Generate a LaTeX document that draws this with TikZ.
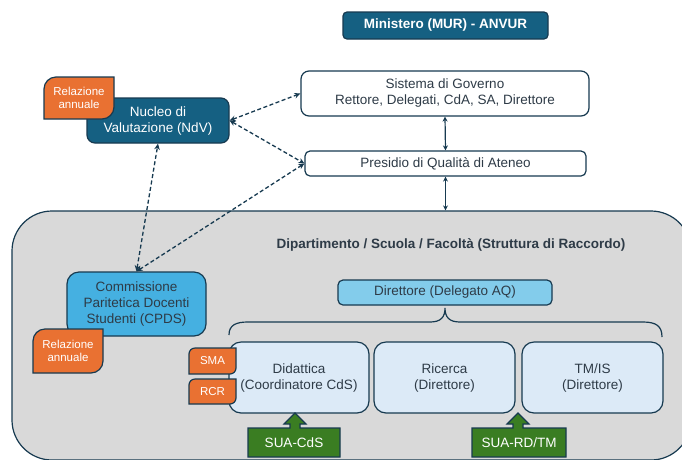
\documentclass[tikz,border=0pt]{standalone}
\usepackage{fontspec}
\setmainfont{Liberation Sans}
\usetikzlibrary{arrows.meta}
\definecolor{navy}{HTML}{173A50}
\definecolor{dkblue}{HTML}{156082}
\definecolor{orng}{HTML}{E97132}
\definecolor{cpdsc}{HTML}{45B0E1}
\definecolor{dirc}{HTML}{83CCEB}
\definecolor{lightc}{HTML}{DCEAF7}
\definecolor{grayc}{HTML}{D9D9D9}
\definecolor{grn}{HTML}{3A7D22}
\definecolor{textc}{HTML}{2E3B47}
\newcommand\bodyf{\fontsize{13.5}{16}\selectfont}
\newcommand\tagf{\fontsize{11.5}{13.5}\selectfont}
\newcommand\tagpath[5]{%
  \filldraw[tagst] (#1,#4) -- (#1,#2+#5) .. controls (#1,#2+0.45*#5) and (#1+0.45*#5,#2) .. (#1+#5,#2)
    -- (#3,#2) -- (#3,#4-#5) .. controls (#3,#4-0.45*#5) and (#3-0.45*#5,#4) .. (#3-#5,#4) -- cycle;}
\begin{document}
\begin{tikzpicture}[x=1pt,y=-1pt,
  box/.style={draw=navy, line width=1.2pt, inner sep=0pt, align=center, font=\bodyf, text=textc},
  tagst/.style={fill=orng, draw=navy, line width=1.2pt},
  tagtext/.style={font=\tagf, text=white, align=center, inner sep=0pt},
  dasharr/.style={draw=navy, line width=1.3pt, dash pattern=on 4pt off 2.5pt,
    {Stealth[length=6pt,width=5.5pt]}-{Stealth[length=6pt,width=5.5pt]}},
  solarr/.style={draw=navy, line width=1.2pt,
    {Stealth[length=5pt,width=5pt]}-{Stealth[length=5pt,width=5pt]}},
  greenst/.style={fill=grn, draw=navy, line width=1.2pt},
  bracest/.style={draw=navy, line width=1.2pt}]
\useasboundingbox (0,0) rectangle (682,459);
\clip (0,0) rectangle (682,459);
\fill[white] (0,0) rectangle (682,459);

% big gray region
\node[draw=navy, line width=1.2pt, fill=grayc, rounded corners=40pt, inner sep=0pt,
  minimum width=679pt, minimum height=249pt] (dip) at (351.5,335.5) {};
\node[font=\bodyf\bfseries, text=textc] (diptit) at (451,245) {Dipartimento / Scuola / Facoltà (Struttura di Raccordo)};

% top boxes
\node[box, fill=dkblue, text=white, font=\bodyf\bfseries, rounded corners=4pt,
  minimum width=205pt, minimum height=27pt] (min) at (445.5,25.5) {Ministero (MUR) - ANVUR};
\node[box, fill=white, rounded corners=8pt, minimum width=288pt, minimum height=45pt]
  (sis) at (445,93.5) {Sistema di Governo\\Rettore, Delegati, CdA, SA, Direttore};
\node[box, fill=white, rounded corners=5pt, minimum width=281pt, minimum height=25pt]
  (pqa) at (445.5,163.5) {Presidio di Qualità di Ateneo};
\node[box, fill=dkblue, text=white, rounded corners=8pt, minimum width=142pt, minimum height=45pt]
  (ndv) at (158,120.5) {Nucleo di\\Valutazione (NdV)};

% department contents
\node[box, fill=cpdsc, rounded corners=12pt, minimum width=139pt, minimum height=64pt]
  (cpds) at (136.5,304) {Commissione\\Paritetica Docenti\\Studenti (CPDS)};
\node[box, fill=dirc, rounded corners=5pt, minimum width=214pt, minimum height=25pt]
  (dir) at (445,292.5) {Direttore (Delegato AQ)};
\node[box, fill=lightc, rounded corners=12pt, minimum width=140pt, minimum height=71pt]
  (did) at (299,377.5) {Didattica\\(Coordinatore CdS)};
\node[box, fill=lightc, rounded corners=12pt, minimum width=141pt, minimum height=71pt]
  (ric) at (444.5,377.5) {Ricerca\\(Direttore)};
\node[box, fill=lightc, rounded corners=12pt, minimum width=141pt, minimum height=71pt]
  (tm) at (592.5,377.5) {TM/IS\\(Direttore)};

% brace
\draw[bracest] (229,335) .. controls (229,325) and (236,322) .. (248,322) -- (430,322)
  .. controls (441,322) and (445,317) .. (445,308)
  .. controls (445,317) and (449,322) .. (460,322) -- (643,322)
  .. controls (656,322) and (662,326) .. (662,337);

% green block arrows
\filldraw[greenst] (248,428) -- (290,428) -- (290,424) -- (284,424) -- (295,413) -- (306,424)
  -- (300,424) -- (300,428) -- (340,428) -- (340,457) -- (248,457) -- cycle;
\node[font=\bodyf, text=white] (suacds) at (294,443) {SUA-CdS};
\filldraw[greenst] (472,428) -- (513,428) -- (513,424) -- (507,424) -- (518,413) -- (529,424)
  -- (523,424) -- (523,428) -- (566,428) -- (566,457) -- (472,457) -- cycle;
\node[font=\bodyf, text=white] (suard) at (519,443) {SUA-RD/TM};

% connectors
\draw[dasharr] (ndv.east) -- (sis.west);
\draw[dasharr] (ndv.east) -- (pqa.west);
\draw[dasharr] (cpds.north) -- (pqa.west);
\draw[dasharr] (cpds.north) -- (ndv.south);
\draw[solarr] (sis.south) -- (pqa.north);
\draw[solarr] (pqa.south) -- (pqa.south |- dip.north);

% tags
\tagpath{44}{77}{114}{119}{12}
\node[tagtext] (tag1) at (79,98) {Relazione\\annuale};
\tagpath{33}{329}{103}{373}{12}
\node[tagtext] (tag2) at (68,351) {Relazione\\annuale};
\tagpath{189}{348}{236}{374}{6}
\node[tagtext] (sma) at (212.5,361) {SMA};
\tagpath{189}{379}{236}{404}{6}
\node[tagtext] (rcr) at (212.5,391.5) {RCR};
\end{tikzpicture}
\end{document}
